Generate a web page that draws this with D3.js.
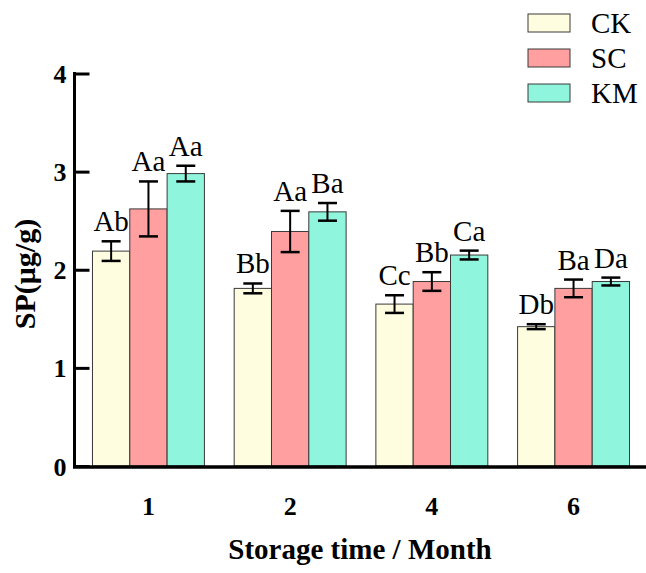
<!DOCTYPE html>
<html>
<head>
<meta charset="utf-8">
<script src="https://cdn.jsdelivr.net/npm/d3@7"></script>
<style>
  body { margin: 0; background: #fff; }
  svg text { font-family: "Liberation Serif", "Times New Roman", serif; }
</style>
</head>
<body>
<div id="chart"></div>
<script>
// storage months (x categories)
var months = ["1", "2", "4", "6"];
var seriesNames = ["CK", "SC", "KM"];
var seriesColors = ["#fffddf", "#ff9f9f", "#8ff5dc"];

// means and error bars
var ckValues = [2.19, 1.81, 1.65, 1.42];
var scValues = [2.62, 2.39, 1.88, 1.81];
var kmValues = [2.98, 2.59, 2.15, 1.88];
var ckErrors = [0.10, 0.05, 0.09, 0.025];
var scErrors = [0.28, 0.21, 0.095, 0.09];
var kmErrors = [0.08, 0.09, 0.045, 0.04];
var ckLabels = ["Ab", "Bb", "Cc", "Db"];
var scLabels = ["Aa", "Aa", "Bb", "Ba"];
var kmLabels = ["Aa", "Ba", "Ca", "Da"];
var yTicks = [0, 1, 2, 3, 4];

var values = [ckValues, scValues, kmValues];
var errors = [ckErrors, scErrors, kmErrors];
var labels = [ckLabels, scLabels, kmLabels];

var width = 646, height = 573;
var serif = "'Liberation Serif', 'Times New Roman', serif";

var svg = d3.select("#chart").append("svg")
    .attr("width", width)
    .attr("height", height)
    .attr("font-family", serif);

var x = d3.scaleBand()
    .domain(months)
    .range([77.6, 644.4])
    .paddingInner(0.21)
    .paddingOuter(0.105);

var xSub = d3.scaleBand()
    .domain(seriesNames)
    .range([0, x.bandwidth()]);

var y = d3.scaleLinear()
    .domain([0, 4])
    .range([466, 73.5]);

// flatten for drawing
var rows = [];
seriesNames.forEach(function (s, si) {
    months.forEach(function (m, mi) {
        rows.push({
            series: s, si: si, month: m,
            value: values[si][mi], err: errors[si][mi], label: labels[si][mi]
        });
    });
});

// bars
svg.append("g").selectAll("rect")
    .data(rows)
    .enter().append("rect")
    .attr("x", function (d) { return x(d.month) + xSub(d.series); })
    .attr("y", function (d) { return y(d.value); })
    .attr("width", xSub.bandwidth())
    .attr("height", function (d) { return y(0) - y(d.value); })
    .attr("fill", function (d) { return seriesColors[d.si]; })
    .attr("stroke", "#3a3a3a")
    .attr("stroke-width", 1);

// error bars
var capW = 19;
var eb = svg.append("g").selectAll("g")
    .data(rows)
    .enter().append("g")
    .attr("transform", function (d) {
        return "translate(" + (x(d.month) + xSub(d.series) + xSub.bandwidth() / 2) + ",0)";
    });
eb.append("line")
    .attr("x1", 0).attr("x2", 0)
    .attr("y1", function (d) { return y(d.value + d.err); })
    .attr("y2", function (d) { return y(d.value - d.err); })
    .attr("stroke", "#000").attr("stroke-width", 2);
eb.append("line")
    .attr("x1", -capW / 2).attr("x2", capW / 2)
    .attr("y1", function (d) { return y(d.value + d.err); })
    .attr("y2", function (d) { return y(d.value + d.err); })
    .attr("stroke", "#000").attr("stroke-width", 2.5);
eb.append("line")
    .attr("x1", -capW / 2).attr("x2", capW / 2)
    .attr("y1", function (d) { return y(d.value - d.err); })
    .attr("y2", function (d) { return y(d.value - d.err); })
    .attr("stroke", "#000").attr("stroke-width", 2.5);

// significance letters
eb.append("text")
    .attr("x", 0)
    .attr("y", function (d) { return y(d.value + d.err) - 10; })
    .attr("text-anchor", "middle")
    .attr("font-family", serif)
    .attr("font-size", 29)
    .attr("fill", "#000")
    .text(function (d) { return d.label; });

// Y axis (ticks pointing inward)
var yAxis = svg.append("g")
    .attr("transform", "translate(74.5,0)")
    .call(d3.axisRight(y).tickValues(yTicks).tickSize(15).tickFormat(d3.format("d")));
yAxis.attr("font-family", serif);
yAxis.select(".domain").remove();
yAxis.selectAll(".tick line").attr("stroke", "#000").attr("stroke-width", 3);
yAxis.selectAll(".tick text")
    .attr("x", -8)
    .attr("text-anchor", "end")
    .attr("dy", "0.35em")
    .attr("font-family", serif)
    .attr("font-size", 26)
    .attr("font-weight", "bold")
    .attr("fill", "#000");
svg.append("line")
    .attr("x1", 74.5).attr("x2", 74.5)
    .attr("y1", y(4) - 1.5).attr("y2", y(0))
    .attr("stroke", "#000").attr("stroke-width", 3);

// X axis
var xAxis = svg.append("g")
    .attr("transform", "translate(0,467)")
    .call(d3.axisBottom(x).tickSize(0).tickPadding(48));
xAxis.attr("font-family", serif);
xAxis.select(".domain").remove();
xAxis.selectAll(".tick text")
    .attr("font-family", serif)
    .attr("font-size", 26)
    .attr("font-weight", "bold")
    .attr("fill", "#000")
    .attr("dy", "0");
svg.append("line")
    .attr("x1", 73).attr("x2", width)
    .attr("y1", 467).attr("y2", 467)
    .attr("stroke", "#000").attr("stroke-width", 3.5);

// axis titles
svg.append("text")
    .attr("x", 360)
    .attr("y", 559)
    .attr("text-anchor", "middle")
    .attr("font-family", serif)
    .attr("font-size", 29)
    .attr("font-weight", "bold")
    .text("Storage time / Month");

svg.append("text")
    .attr("transform", "translate(35,274) rotate(-90)")
    .attr("text-anchor", "middle")
    .attr("font-family", serif)
    .attr("font-size", 30)
    .attr("font-weight", "bold")
    .text("SP(μg/g)");

// legend
var legend = svg.append("g").selectAll("g")
    .data(seriesNames)
    .enter().append("g")
    .attr("transform", function (d, i) { return "translate(528," + (14 + i * 35) + ")"; });
legend.append("rect")
    .attr("width", 42).attr("height", 18)
    .attr("fill", function (d, i) { return seriesColors[i]; })
    .attr("stroke", "#3a3a3a").attr("stroke-width", 1);
legend.append("text")
    .attr("x", 63)
    .attr("y", 19)
    .attr("font-family", serif)
    .attr("font-size", 29)
    .text(function (d) { return d; });
</script>
</body>
</html>
